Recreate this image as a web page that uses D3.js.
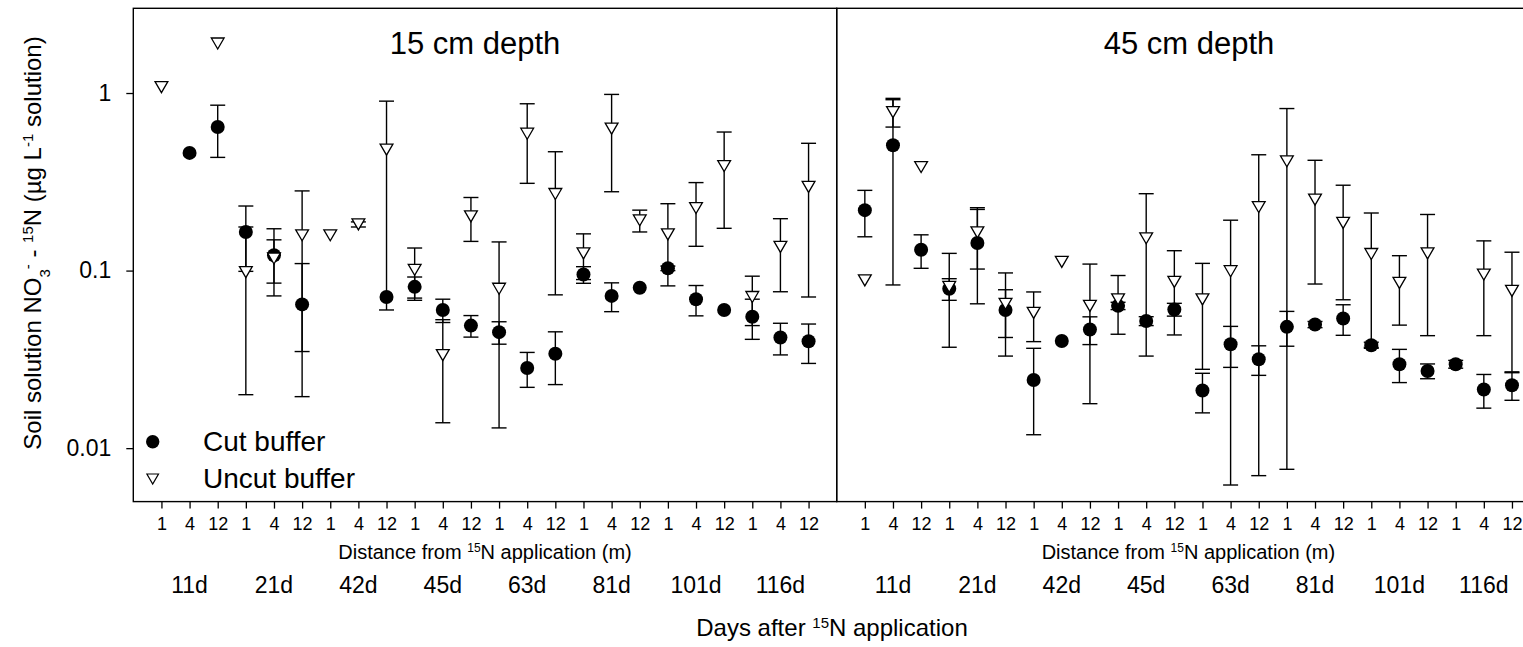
<!DOCTYPE html>
<html>
<head>
<meta charset="utf-8">
<script src="https://cdn.jsdelivr.net/npm/d3@7"></script>
<style>
    body { margin: 0; background: #fff; }
    svg text { font-family: "Liberation Sans", Arial, sans-serif; fill: #000; }
</style>
</head>
<body>
<div id="chart"></div>
<script>
// categories
const days = ["11d", "21d", "42d", "45d", "63d", "81d", "101d", "116d"];
const distances = ["1", "4", "12"];
const yTicks = [0.01, 0.1, 1];

// 15 cm depth (mean, SE) - null = no sample
const cut15 = [null, 0.46, 0.644, 0.165, 0.122, 0.0645, null, null, 0.071, 0.081, 0.06, 0.049,
    0.045, 0.0283, 0.034, 0.095, 0.072, 0.08, 0.103, 0.069, 0.06, 0.055, 0.042, 0.04];
const cut15Se = [0, 0, 0.21, 0.066, 0.05, 0.045, 0, 0, 0, 0.011, 0.009, 0.0068,
    0.0065, 0.0063, 0.0112, 0.0102, 0.0133, 0, 0.003, 0.0134, 0, 0.014, 0.0085, 0.01];
const uncut15 = [1.08, null, 1.9, 0.098, 0.117, 0.158, 0.158, 0.182, 0.48, 0.101, 0.0334, 0.202,
    0.079, 0.59, 0.27, 0.125, 0.63, 0.192, 0.16, 0.225, 0.388, 0.071, 0.136, 0.296];
const uncut15Se = [0, 0, 0, 0.078, 0.032, 0.123, 0, 0.006, 0.42, 0.033, 0.0195, 0.056,
    0.066, 0.28, 0.197, 0.036, 0.352, 0.027, 0.078, 0.088, 0.215, 0.022, 0.06, 0.225];

// 45 cm depth
const cut45 = [0.219, 0.508, 0.131, 0.079, 0.143, 0.06, 0.0242, 0.0401, 0.0466, 0.0633, 0.052, 0.0604,
    0.0211, 0.0385, 0.0317, 0.0482, 0.0497, 0.0537, 0.038, 0.0297, 0.0272, 0.0297, 0.0214, 0.0226];
const cut45Se = [0.064, 0.425, 0.028, 0.011, 0.078, 0.018, 0.0123, 0, 0.0083, 0.003, 0.003, 0.005,
    0.0053, 0.01, 0.006, 0.0107, 0.002, 0.0105, 0.0015, 0.0063, 0.0026, 0.0015, 0.0046, 0.004];
const uncut45 = [0.088, 0.78, 0.383, 0.081, 0.164, 0.065, 0.0578, 0.112, 0.0633, 0.0688, 0.152, 0.0864,
    0.0688, 0.0992, 0.228, 0.4126, 0.251, 0.1855, 0.124, 0.0853, 0.125, null, 0.095, 0.0769];
const uncut45Se = [0, 0.137, 0, 0.044, 0.062, 0.032, 0.018, 0, 0.0455, 0.025, 0.119, 0.043,
    0.041, 0.093, 0.221, 0.405, 0.167, 0.117, 0.087, 0.036, 0.082, 0, 0.052, 0.05];

const width = 1523, height = 647;
const plotTop = 8.3, plotBottom = 501.6, panelW = 703.4;
const keys = days.flatMap(function (d) { return distances.map(function (m) { return d + "|" + m; }); });

let svg = d3.select("#chart").append("svg")
    .attr("width", width)
    .attr("height", height);

let y = d3.scaleLog()
    .domain([0.005, 3])
    .range([plotBottom, plotTop]);

class DepthPanel {
    constructor(svg, opts) {
        this.svg = svg;
        this.opts = opts;
        this.initVis();
    }

    initVis() {
        let vis = this;
        let o = vis.opts;

        vis.x = d3.scalePoint()
            .domain(keys)
            .range([o.x0, o.x0 + panelW])
            .padding(1);

        vis.g = vis.svg.append("g");

        vis.g.append("rect")
            .attr("x", o.x0)
            .attr("y", plotTop)
            .attr("width", panelW)
            .attr("height", plotBottom - plotTop)
            .attr("fill", "none")
            .attr("stroke", "#000")
            .attr("stroke-width", 1.4);

        // distance ticks
        let xAxis = vis.g.append("g")
            .attr("class", "x_axis")
            .attr("transform", `translate(0, ${plotBottom})`)
            .call(d3.axisBottom(vis.x).tickSize(7).tickPadding(9)
                .tickFormat(function (d) { return d.split("|")[1]; }))
            .attr("font-size", 18);
        xAxis.select(".domain").remove();
        xAxis.selectAll(".tick line").attr("stroke-width", 1.3);

        // distance title
        let dt = vis.g.append("text")
            .attr("x", o.x0 + panelW / 2)
            .attr("y", 559)
            .attr("text-anchor", "middle")
            .attr("font-size", 20);
        dt.append("tspan").text("Distance from ");
        dt.append("tspan").attr("font-size", 12).attr("baseline-shift", "super").text("15");
        dt.append("tspan").text("N application (m)");

        // day labels
        vis.g.selectAll(".dayLabel")
            .data(days)
            .enter()
            .append("text")
            .attr("class", "dayLabel")
            .attr("x", function (d) { return vis.x(d + "|4"); })
            .attr("y", 593)
            .attr("text-anchor", "middle")
            .attr("font-size", 23)
            .text(function (d) { return d; });

        vis.g.append("text")
            .attr("x", o.titleX)
            .attr("y", 53.5)
            .attr("text-anchor", "middle")
            .attr("font-size", 31)
            .text(o.title);

        vis.updateVis();
    }

    updateVis() {
        let vis = this;
        let o = vis.opts;
        let capW = 7.5;

        let rows = function (vals, se) {
            return keys.map(function (k, i) { return {key: k, v: vals[i], se: se[i]}; })
                .filter(function (d) { return d.v !== null; });
        };
        vis.cutData = rows(o.cut, o.cutSe);
        vis.uncutData = rows(o.uncut, o.uncutSe);

        let drawBars = function (data, cls) {
            let bars = data.filter(function (d) { return d.se > 0; });
            let grp = vis.g.selectAll("." + cls)
                .data(bars)
                .enter()
                .append("g")
                .attr("class", cls)
                .attr("stroke", "#000")
                .attr("stroke-width", 1.4);
            let lo = function (d) { return y(Math.max(d.v - d.se, 0.005)); };
            let hi = function (d) { return y(d.v + d.se); };
            grp.append("line")
                .attr("x1", function (d) { return vis.x(d.key); })
                .attr("x2", function (d) { return vis.x(d.key); })
                .attr("y1", lo)
                .attr("y2", hi);
            grp.append("line")
                .attr("x1", function (d) { return vis.x(d.key) - capW; })
                .attr("x2", function (d) { return vis.x(d.key) + capW; })
                .attr("y1", hi)
                .attr("y2", hi);
            grp.append("line")
                .attr("x1", function (d) { return vis.x(d.key) - capW; })
                .attr("x2", function (d) { return vis.x(d.key) + capW; })
                .attr("y1", lo)
                .attr("y2", lo);
        };

        drawBars(vis.cutData, "cutBars");
        vis.g.selectAll(".cutDots")
            .data(vis.cutData)
            .enter()
            .append("circle")
            .attr("class", "cutDots")
            .attr("cx", function (d) { return vis.x(d.key); })
            .attr("cy", function (d) { return y(d.v); })
            .attr("r", 7)
            .attr("fill", "#000");

        drawBars(vis.uncutData, "uncutBars");
        vis.g.selectAll(".uncutTri")
            .data(vis.uncutData)
            .enter()
            .append("path")
            .attr("class", "uncutTri")
            .attr("d", "M-6.4,-5.5L6.4,-5.5L0,5.5Z")
            .attr("transform", function (d) { return `translate(${vis.x(d.key)}, ${y(d.v)})`; })
            .attr("fill", "#fff")
            .attr("stroke", "#000")
            .attr("stroke-width", 1.3);
    }
}

new DepthPanel(svg, {x0: 133.3, title: "15 cm depth", titleX: 475,
    cut: cut15, cutSe: cut15Se, uncut: uncut15, uncutSe: uncut15Se});
new DepthPanel(svg, {x0: 133.3 + panelW, title: "45 cm depth", titleX: 1189,
    cut: cut45, cutSe: cut45Se, uncut: uncut45, uncutSe: uncut45Se});

// y axis (left panel only)
let yAxis = svg.append("g")
    .attr("class", "y_axis")
    .attr("transform", "translate(133.3, 0)")
    .call(d3.axisLeft(y).tickValues(yTicks).tickSize(7).tickPadding(15)
        .tickFormat(function (d) { return String(d); }))
    .attr("font-size", 23);
yAxis.select(".domain").remove();
yAxis.selectAll(".tick line").attr("stroke-width", 1.3);

// y title
let yt = svg.append("text")
    .attr("transform", "translate(41, 243) rotate(-90)")
    .attr("text-anchor", "middle")
    .attr("font-size", 24);
yt.append("tspan").text("Soil solution NO");
yt.append("tspan").attr("font-size", 15).attr("baseline-shift", "sub").text("3");
yt.append("tspan").attr("font-size", 15).attr("baseline-shift", "super").text("-");
yt.append("tspan").text(" - ");
yt.append("tspan").attr("font-size", 15).attr("baseline-shift", "super").text("15");
yt.append("tspan").text("N (\u00b5g L");
yt.append("tspan").attr("font-size", 15).attr("baseline-shift", "super").text("-1");
yt.append("tspan").text(" solution)");

// x title
let xt = svg.append("text")
    .attr("x", 832)
    .attr("y", 636)
    .attr("text-anchor", "middle")
    .attr("font-size", 24);
xt.append("tspan").text("Days after ");
xt.append("tspan").attr("font-size", 15).attr("baseline-shift", "super").text("15");
xt.append("tspan").text("N application");

// legend
let legend = svg.append("g").attr("class", "legend");
legend.append("circle")
    .attr("cx", 152.7).attr("cy", 441.7).attr("r", 6.7)
    .attr("fill", "#000");
legend.append("path")
    .attr("d", "M-5.8,-5L5.8,-5L0,5Z")
    .attr("transform", "translate(152.7, 479)")
    .attr("fill", "#fff").attr("stroke", "#000").attr("stroke-width", 1.2);
legend.append("text").attr("x", 203).attr("y", 450.7).attr("font-size", 28).text("Cut buffer");
legend.append("text").attr("x", 203).attr("y", 488.3).attr("font-size", 28).text("Uncut buffer");
</script>
</body>
</html>
